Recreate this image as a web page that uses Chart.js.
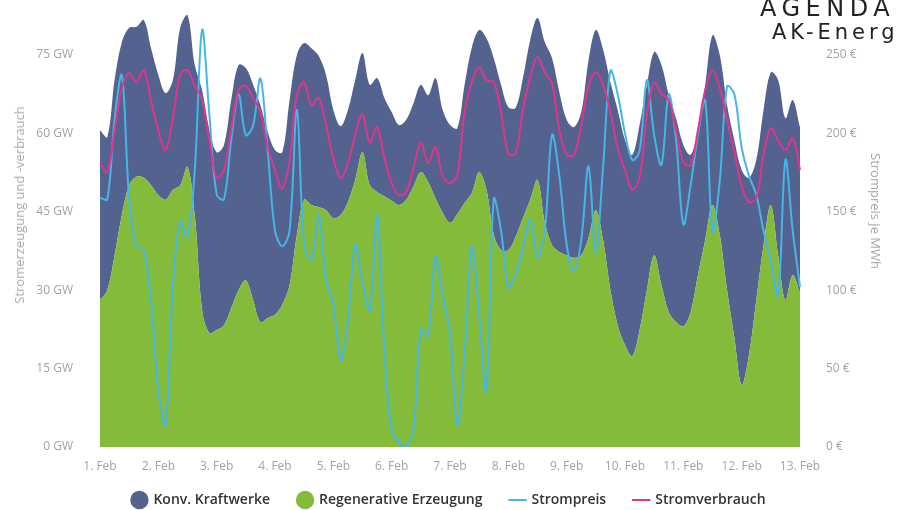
<!DOCTYPE html>
<html><head><meta charset="utf-8">
<script src="https://cdn.jsdelivr.net/npm/chart.js@4.4.0/dist/chart.umd.min.js"></script>
<style>
html,body{margin:0;padding:0;background:#fff;overflow:hidden;}
#wrap{position:relative;width:898px;height:510px;overflow:hidden;}
canvas{position:absolute;left:0;top:0;}
.logo{position:absolute;font-family:'DejaVu Sans',sans-serif;color:#222;white-space:nowrap;z-index:2;line-height:1;}
.ytitle{position:absolute;font-family:'Open Sans',sans-serif;font-size:13px;color:#a8a8a8;white-space:nowrap;z-index:2;}
</style></head>
<body>
<div id="wrap">
<canvas id="c" width="898" height="510"></canvas>
<div class="logo" style="left:760px;top:-4px;font-size:24px;letter-spacing:5.5px;">AGENDA</div>
<div class="logo" style="left:772px;top:22px;font-size:21px;letter-spacing:4px;">AK-Energ</div>
<div class="ytitle" style="left:19px;top:205px;transform:translate(-50%,-50%) rotate(-90deg);">Stromerzeugung und -verbrauch</div>
<div class="ytitle" style="left:876px;top:211px;transform:translate(-50%,-50%) rotate(90deg);">Strompreis je MWh</div>
</div>
<script>
const dayLabels = ["1. Feb","2. Feb","3. Feb","4. Feb","5. Feb","6. Feb","7. Feb","8. Feb","9. Feb","10. Feb","11. Feb","12. Feb","13. Feb"];
const slotHours = ["00","03","06","09","12","15","18","21"];
const leftTicks = [0,15,30,45,60,75];
const rightTicks = [0,50,100,150,200,250];

// GW, 3-hourly from 1 Feb 00:00 to 13 Feb 00:00
const renewable = [28.1,30.0,36.7,44.4,50.1,51.7,51.5,50.1,48.2,47.3,
49.2,50.1,53.6,44.4,26.2,21.8,22.4,23.3,26.6,30.0,
31.9,28.1,23.9,24.7,25.3,27.2,31.0,40.6,47.3,46.3,
45.9,45.3,43.8,44.4,46.9,51.1,56.4,50.1,48.8,48.0,
47.1,46.3,47.3,49.9,52.6,50.7,47.6,44.8,42.9,44.6,
46.7,48.6,52.6,49.2,40.6,37.7,37.7,40.2,43.8,47.3,
51.1,43.0,38.6,37.3,36.7,36.2,36.7,40.0,45.3,39.6,
30.0,23.3,19.5,17.4,22.4,30.0,36.7,31.0,25.8,23.9,
23.1,25.8,32.9,39.6,46.3,40.6,30.0,20.9,11.9,17.6,
28.1,38.6,46.3,36.7,28.1,32.9,29.5];
const conventional = [32.5,29.3,33.5,33.1,30.1,28.7,30.2,26.2,23.0,20.4,
21.0,30.1,29.0,28.7,42.1,38.8,34.0,34.5,39.8,43.1,
40.6,41.2,41.5,35.6,31.5,29.2,35.4,34.4,30.0,30.0,
28.9,25.9,20.7,17.0,17.6,19.1,19.0,19.2,21.8,18.8,
17.0,15.3,15.3,15.9,16.7,16.6,23.0,19.7,18.7,16.4,
22.6,27.9,27.2,29.0,33.8,31.6,27.3,24.7,26.8,30.6,
31.0,34.5,35.8,30.6,25.9,25.0,27.4,34.0,34.5,36.4,
39.8,41.2,39.2,38.5,39.2,39.3,38.9,42.1,41.5,39.0,
34.7,30.1,27.7,29.7,32.5,34.4,35.4,37.8,41.1,33.9,
26.8,25.9,25.4,33.5,34.8,33.5,31.7];
const consumption = [54.3,52.6,60.6,68.7,71.5,69.8,72.1,66.4,60.6,56.8,
62.9,71.2,72.1,69.1,66.4,58.7,51.5,53.0,60.6,68.3,
69.1,66.8,64.1,57.4,53.0,49.5,54.9,67.3,69.8,65.4,
66.8,61.6,55.3,51.5,54.3,59.7,63.7,58.2,61.2,55.3,
50.5,48.2,48.8,53.4,58.2,54.3,57.4,51.8,50.5,52.0,
64.1,69.8,72.7,70.2,69.8,64.1,56.2,56.2,64.5,70.8,
74.6,71.7,69.6,60.6,55.9,55.9,61.6,69.1,71.7,69.3,
64.1,57.2,53.0,49.2,51.5,63.5,69.8,67.5,66.4,60.6,
54.5,53.9,60.6,68.3,72.1,68.7,62.6,56.4,49.9,46.9,
47.6,55.9,61.0,58.7,56.8,59.1,53.0];
// EUR per MWh
const price = [159,158,209,237,158,128,126,94,36,14,
103,144,134,177,266,212,161,158,196,225,
199,205,235,189,138,128,138,215,129,119,
148,107,91,55,81,129,105,87,148,62,
11,3,1,12,75,71,121,97,73,14,
59,128,84,36,158,138,102,110,127,145,
121,138,199,173,129,112,132,179,124,179,
240,225,200,183,189,234,199,180,225,196,
142,167,199,221,137,170,230,225,191,173,
161,138,119,97,183,138,102];

const labels = [];
dayLabels.forEach((d, di) => {
  if (di < dayLabels.length - 1) slotHours.forEach(h => labels.push(d + " " + h + ":00"));
  else labels.push(d + " 00:00");
});

const tickColor = '#a3a3a3';
const tickFont = {family: 'Open Sans', size: 12};
const legendRank = [1, 0, 2, 3];

// start the legend box a little higher so its row sits where the original puts it
const legendLift = {
  id: 'legendLift',
  afterLayout(chart) {
    const l = chart.legend;
    if (l) { l.top -= 12; l.height += 12; }
  }
};

new Chart(document.getElementById('c'), {
  type: 'line',
  data: {
    labels: labels,
    datasets: [
      {label: 'Regenerative Erzeugung', data: renewable, stack: 'gen', fill: 'origin',
       backgroundColor: '#85bb3b', borderColor: '#85bb3b', borderWidth: 0, pointRadius: 0,
       pointStyle: 'circle', tension: 0.35, order: 3, yAxisID: 'y'},
      {label: 'Konv. Kraftwerke', data: conventional, stack: 'gen', fill: '-1',
       backgroundColor: '#53628f', borderColor: '#53628f', borderWidth: 0, pointRadius: 0,
       pointStyle: 'circle', tension: 0.35, order: 4, yAxisID: 'y'},
      {label: 'Strompreis', data: price, fill: false, borderColor: '#45b6e6', backgroundColor: '#45b6e6',
       borderWidth: 2, pointRadius: 0, pointStyle: 'line', tension: 0.35, order: 2, yAxisID: 'y2'},
      {label: 'Stromverbrauch', data: consumption, stack: 'load', fill: false, borderColor: '#e0358b',
       backgroundColor: '#e0358b', borderWidth: 2, pointRadius: 0, pointStyle: 'line', tension: 0.35,
       order: 1, yAxisID: 'y'}
    ]
  },
  plugins: [legendLift],
  options: {
    responsive: false,
    animation: false,
    layout: {padding: {top: 8, left: 0, right: 0, bottom: 0}},
    plugins: {
      tooltip: {enabled: false},
      legend: {
        position: 'bottom',
        maxHeight: 33,
        labels: {
          usePointStyle: true, boxHeight: 13, padding: 28, color: '#333',
          font: {family: 'Open Sans', size: 14, weight: '600'},
          sort: (a, b) => legendRank[a.datasetIndex] - legendRank[b.datasetIndex]
        }
      }
    },
    scales: {
      x: {
        type: 'category',
        grid: {display: false, drawTicks: false}, border: {display: false},
        ticks: {autoSkip: false, maxRotation: 0, minRotation: 0, padding: 12, color: tickColor, font: tickFont,
          callback: (v, i) => (i % slotHours.length === 0 ? dayLabels[i / slotHours.length] : '')},
        afterFit: s => { s.height = 30; }
      },
      y: {
        stacked: true, min: 0, max: 84,
        grid: {display: false, drawTicks: true, tickLength: 27}, border: {display: false},
        afterBuildTicks: s => { s.ticks = leftTicks.map(v => ({value: v})); },
        ticks: {padding: 0, color: tickColor, font: tickFont, callback: v => v + ' GW'},
        afterFit: s => { s.width = 100; }
      },
      y2: {
        position: 'right', min: 0, max: 280,
        grid: {display: false, drawTicks: true, tickLength: 26}, border: {display: false},
        afterBuildTicks: s => { s.ticks = rightTicks.map(v => ({value: v})); },
        ticks: {padding: 0, color: tickColor, font: tickFont, callback: v => v + ' €'},
        afterFit: s => { s.width = 98; }
      }
    }
  }
});
</script>
</body></html>
